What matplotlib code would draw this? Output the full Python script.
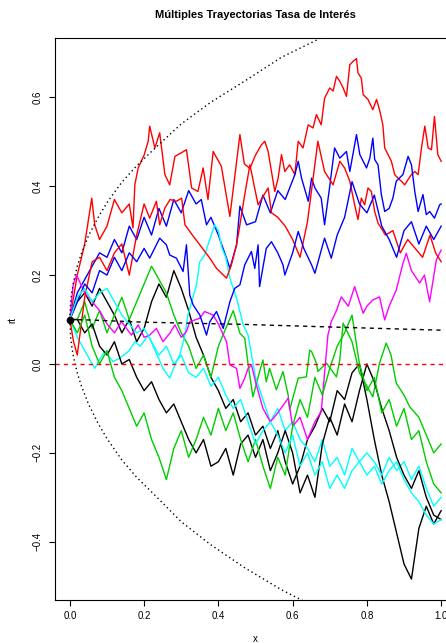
import numpy as np
import matplotlib
matplotlib.use("Agg")
import matplotlib.pyplot as plt

plt.rcParams['font.family'] = ['Liberation Sans', 'DejaVu Sans']

# Regular time grid used by the trajectories that are sampled every 0.02
t = np.linspace(0.0, 1.0, 51)

red_a_x = [0, 0.02, 0.04, 0.059, 0.067, 0.08, 0.10, 0.12, 0.14, 0.16, 0.17, 0.175, 0.184, 0.20, 0.211, 0.215,
           0.229, 0.242, 0.256, 0.269, 0.283, 0.30, 0.314, 0.328, 0.345, 0.359, 0.372, 0.386, 0.408, 0.431,
           0.458, 0.47, 0.485, 0.50, 0.516, 0.525, 0.534, 0.543, 0.552, 0.561, 0.570, 0.579, 0.592, 0.606,
           0.615, 0.628, 0.642, 0.655, 0.664, 0.677, 0.686, 0.700, 0.709, 0.718, 0.727, 0.736, 0.745, 0.754,
           0.763, 0.772, 0.776, 0.785, 0.790, 0.803, 0.816, 0.826, 0.834, 0.843, 0.848, 0.857, 0.866, 0.875,
           0.884, 0.893, 0.902, 0.911, 0.920, 0.929, 0.938, 0.947, 0.956, 0.965, 0.974, 0.982, 0.991, 1.0]
red_a_y = [0.10, 0.20, 0.27, 0.373, 0.313, 0.28, 0.31, 0.37, 0.34, 0.36, 0.306, 0.403, 0.441, 0.47, 0.501,
           0.535, 0.486, 0.520, 0.426, 0.403, 0.467, 0.475, 0.482, 0.396, 0.388, 0.441, 0.370, 0.478, 0.445,
           0.332, 0.516, 0.45, 0.44, 0.47, 0.493, 0.501, 0.478, 0.433, 0.388, 0.418, 0.471, 0.433, 0.448, 0.426,
           0.501, 0.486, 0.538, 0.531, 0.561, 0.538, 0.598, 0.621, 0.614, 0.647, 0.636, 0.621, 0.602, 0.673,
           0.681, 0.687, 0.655, 0.643, 0.606, 0.595, 0.572, 0.595, 0.572, 0.538, 0.486, 0.471, 0.456, 0.426,
           0.418, 0.411, 0.403, 0.415, 0.426, 0.433, 0.426, 0.486, 0.535, 0.486, 0.482, 0.557, 0.471, 0.456]

red_b_x = [0, 0.01, 0.02, 0.04, 0.06, 0.08, 0.10, 0.12, 0.14, 0.16, 0.18, 0.20, 0.215, 0.233, 0.242, 0.256,
           0.27, 0.287, 0.301, 0.310, 0.33, 0.350, 0.377, 0.395, 0.422, 0.435, 0.449, 0.458, 0.471, 0.485,
           0.507, 0.534, 0.543, 0.56, 0.58, 0.60, 0.62, 0.64, 0.668, 0.686, 0.709, 0.727, 0.740, 0.754, 0.767,
           0.776, 0.785, 0.794, 0.803, 0.812, 0.821, 0.830, 0.85, 0.87, 0.89, 0.91, 0.93, 0.95, 0.97, 0.985, 1.0]
red_b_y = [0.10, 0.05, 0.02, 0.15, 0.23, 0.24, 0.21, 0.25, 0.27, 0.20, 0.29, 0.36, 0.328, 0.366, 0.313, 0.351,
           0.37, 0.366, 0.373, 0.313, 0.29, 0.268, 0.238, 0.215, 0.193, 0.223, 0.268, 0.313, 0.381, 0.448,
           0.358, 0.396, 0.340, 0.33, 0.31, 0.28, 0.24, 0.32, 0.501, 0.433, 0.403, 0.456, 0.441, 0.411, 0.358,
           0.325, 0.373, 0.358, 0.396, 0.388, 0.343, 0.317, 0.29, 0.30, 0.25, 0.28, 0.26, 0.24, 0.29, 0.25, 0.23]

blue_a_x = [0, 0.02, 0.04, 0.06, 0.08, 0.10, 0.12, 0.14, 0.16, 0.18, 0.20, 0.22, 0.24, 0.26, 0.28, 0.30, 0.32,
            0.34, 0.354, 0.368, 0.38, 0.40, 0.422, 0.431, 0.449, 0.458, 0.476, 0.50, 0.52, 0.54, 0.56, 0.58,
            0.606, 0.615, 0.624, 0.642, 0.651, 0.660, 0.677, 0.686, 0.70, 0.713, 0.727, 0.745, 0.754, 0.772,
            0.781, 0.799, 0.808, 0.816, 0.821, 0.830, 0.839, 0.848, 0.86, 0.870, 0.879, 0.897, 0.911, 0.920,
            0.929, 0.938, 0.951, 0.960, 0.969, 0.982, 0.996, 1.0]
blue_a_y = [0.10, 0.16, 0.19, 0.22, 0.25, 0.24, 0.28, 0.25, 0.31, 0.28, 0.33, 0.29, 0.35, 0.31, 0.37, 0.34, 0.39,
            0.36, 0.370, 0.313, 0.33, 0.29, 0.238, 0.215, 0.268, 0.355, 0.313, 0.32, 0.38, 0.34, 0.39, 0.37,
            0.426, 0.456, 0.418, 0.366, 0.418, 0.396, 0.373, 0.313, 0.40, 0.486, 0.463, 0.478, 0.433, 0.516,
            0.471, 0.441, 0.463, 0.508, 0.460, 0.448, 0.381, 0.343, 0.35, 0.373, 0.411, 0.426, 0.467, 0.448,
            0.388, 0.343, 0.381, 0.336, 0.343, 0.328, 0.358, 0.36]

blue_b_x = [0, 0.02, 0.04, 0.06, 0.08, 0.10, 0.12, 0.14, 0.16, 0.18, 0.20, 0.215, 0.242, 0.260, 0.269, 0.287,
            0.305, 0.314, 0.323, 0.332, 0.350, 0.359, 0.368, 0.377, 0.395, 0.413, 0.431, 0.444, 0.458, 0.471,
            0.489, 0.498, 0.507, 0.511, 0.529, 0.543, 0.56, 0.574, 0.579, 0.60, 0.615, 0.63, 0.651, 0.660,
            0.686, 0.704, 0.72, 0.74, 0.76, 0.78, 0.80, 0.82, 0.84, 0.86, 0.88, 0.90, 0.92, 0.94, 0.96, 0.98, 1.0]
blue_b_y = [0.10, 0.14, 0.18, 0.16, 0.21, 0.20, 0.24, 0.21, 0.25, 0.23, 0.26, 0.238, 0.283, 0.268, 0.245, 0.238,
            0.208, 0.268, 0.155, 0.133, 0.110, 0.088, 0.065, 0.095, 0.118, 0.080, 0.140, 0.170, 0.178, 0.223,
            0.253, 0.215, 0.268, 0.174, 0.260, 0.275, 0.25, 0.223, 0.200, 0.25, 0.298, 0.26, 0.223, 0.204,
            0.283, 0.238, 0.29, 0.33, 0.41, 0.36, 0.34, 0.38, 0.31, 0.28, 0.24, 0.30, 0.32, 0.27, 0.31, 0.28, 0.31]

cyan_a_x = [0, 0.02, 0.04, 0.067, 0.08, 0.094, 0.117, 0.139, 0.16, 0.175, 0.19, 0.211, 0.233, 0.251, 0.269,
            0.283, 0.296, 0.310, 0.318, 0.328, 0.341, 0.350, 0.363, 0.372, 0.381, 0.390, 0.40, 0.41, 0.42, 0.431,
            0.449, 0.467, 0.480, 0.50, 0.52, 0.54, 0.56, 0.58, 0.60, 0.62, 0.64, 0.66, 0.68, 0.70, 0.72, 0.74,
            0.76, 0.78, 0.80, 0.82, 0.84, 0.86, 0.88, 0.90, 0.92, 0.94, 0.96, 0.98, 1.0]
cyan_a_y = [0.10, 0.06, 0.03, -0.010, 0.01, 0.028, 0.005, 0.016, 0.03, 0.050, 0.04, 0.065, 0.024, -0.010,
            -0.032, -0.002, 0.020, 0.065, 0.110, 0.140, 0.178, 0.230, 0.245, 0.268, 0.290, 0.313, 0.30, 0.26,
            0.24, 0.193, 0.148, 0.088, 0.065, -0.03, -0.08, -0.13, -0.10, -0.15, -0.13, -0.17, -0.19, -0.22,
            -0.17, -0.23, -0.21, -0.25, -0.19, -0.22, -0.20, -0.22, -0.25, -0.21, -0.24, -0.22, -0.26, -0.23,
            -0.28, -0.32, -0.30]

cyan_b = [0.10, 0.15, 0.17, 0.14, 0.16, 0.17, 0.14, 0.11, 0.09, 0.07, 0.08, 0.05, 0.02, 0.04, 0.00, 0.02, -0.02,
          -0.03, -0.01, -0.05, -0.03, -0.07, -0.10, -0.08, -0.13, -0.18, -0.15, -0.13, -0.16, -0.20, -0.16,
          -0.23, -0.20, -0.25, -0.22, -0.28, -0.25, -0.28, -0.24, -0.22, -0.25, -0.23, -0.27, -0.24, -0.22,
          -0.26, -0.29, -0.31, -0.34, -0.36, -0.35]

magenta_x = [0, 0.009, 0.018, 0.04, 0.06, 0.08, 0.10, 0.12, 0.139, 0.166, 0.184, 0.20, 0.215, 0.233, 0.251,
             0.27, 0.283, 0.30, 0.314, 0.323, 0.35, 0.363, 0.386, 0.40, 0.422, 0.431, 0.449, 0.458, 0.471, 0.480,
             0.489, 0.50, 0.52, 0.54, 0.56, 0.588, 0.60, 0.62, 0.64, 0.66, 0.677, 0.695, 0.704, 0.718, 0.731,
             0.75, 0.767, 0.790, 0.80, 0.816, 0.834, 0.848, 0.86, 0.879, 0.897, 0.906, 0.92, 0.942, 0.955, 0.969,
             0.987, 1.0]
magenta_y = [0.10, 0.178, 0.200, 0.16, 0.14, 0.12, 0.09, 0.07, 0.095, 0.065, 0.088, 0.06, 0.065, 0.080, 0.050,
             0.07, 0.088, 0.06, 0.073, 0.095, 0.103, 0.118, 0.110, 0.09, 0.050, -0.002, -0.010, -0.055, -0.032,
             -0.010, -0.002, -0.04, -0.10, -0.13, -0.11, -0.077, -0.14, -0.12, -0.17, -0.13, -0.107, 0.065,
             0.095, 0.12, 0.151, 0.13, 0.174, 0.114, 0.13, 0.144, 0.151, 0.099, 0.13, 0.166, 0.226, 0.249, 0.21,
             0.182, 0.2, 0.140, 0.234, 0.256]

green_a_x = [0, 0.02, 0.04, 0.06, 0.08, 0.10, 0.12, 0.14, 0.16, 0.18, 0.20, 0.22, 0.24, 0.26, 0.28, 0.30, 0.32,
             0.34, 0.36, 0.38, 0.40, 0.42, 0.44, 0.458, 0.471, 0.48, 0.493, 0.511, 0.52, 0.529, 0.538, 0.552,
             0.556, 0.574, 0.588, 0.592, 0.615, 0.637, 0.646, 0.651, 0.664, 0.668, 0.691, 0.718, 0.727, 0.736,
             0.76, 0.78, 0.80, 0.816, 0.834, 0.852, 0.865, 0.879, 0.90, 0.915, 0.94, 0.969, 0.98, 1.0]
green_a_y = [0.10, 0.10, 0.14, 0.08, 0.12, 0.07, 0.11, 0.15, 0.10, 0.14, 0.18, 0.22, 0.19, 0.16, 0.11, 0.07,
             0.04, -0.01, 0.02, -0.03, 0.04, 0.08, 0.12, 0.069, 0.058, 0.0, -0.074, -0.017, 0.009, -0.04, -0.01,
             -0.047, -0.058, -0.017, -0.07, -0.103, -0.032, -0.029, 0.031, 0.028, 0.002, -0.017, 0.002, -0.029,
             0.009, 0.092, 0.05, -0.02, -0.05, -0.074, 0.002, 0.047, 0.02, -0.043, -0.07, -0.096, -0.12, -0.178,
             -0.2, -0.18]

green_b = [0.10, 0.07, 0.11, 0.04, 0.00, 0.03, -0.03, -0.06, -0.10, -0.14, -0.11, -0.17, -0.21, -0.26, -0.19,
           -0.15, -0.21, -0.17, -0.12, -0.16, -0.10, -0.15, -0.11, -0.17, -0.22, -0.17, -0.23, -0.28, -0.21,
           -0.25, -0.14, -0.08, -0.12, -0.03, -0.07, -0.01, 0.04, 0.07, 0.11, 0.00, -0.06, -0.03, -0.11, -0.08,
           -0.14, -0.10, -0.17, -0.15, -0.22, -0.27, -0.29]
black_a = [0.10, 0.14, 0.16, 0.13, 0.17, 0.14, 0.11, 0.07, 0.10, 0.05, 0.08, 0.14, 0.18, 0.15, 0.21, 0.17, 0.12,
           0.06, 0.02, -0.03, -0.06, -0.10, -0.08, -0.13, -0.11, -0.16, -0.14, -0.19, -0.15, -0.22, -0.27,
           -0.23, -0.17, -0.14, -0.10, -0.13, -0.06, -0.08, -0.02, 0.00, -0.08, -0.17, -0.25, -0.31, -0.38,
           -0.45, -0.484, -0.37, -0.32, -0.36, -0.33]
black_b = [0.10, 0.10, 0.07, 0.09, 0.04, 0.02, 0.05, 0.00, 0.01, -0.03, -0.06, -0.04, -0.08, -0.11, -0.09, -0.13,
           -0.17, -0.20, -0.17, -0.23, -0.22, -0.19, -0.25, -0.18, -0.16, -0.21, -0.17, -0.24, -0.20, -0.15,
           -0.20, -0.29, -0.25, -0.30, -0.18, -0.12, -0.16, -0.09, -0.13, -0.06, 0.00, -0.04, -0.10, -0.15,
           -0.21, -0.25, -0.28, -0.24, -0.30, -0.34, -0.35]

paths = [(t, black_a, "black"), (red_a_x, red_a_y, "#FF0000"), (green_a_x, green_a_y, "#00CD00"),
         (blue_a_x, blue_a_y, "#0000FF"), (cyan_a_x, cyan_a_y, "#00FFFF"), (magenta_x, magenta_y, "#FF00FF"),
         (t, black_b, "black"), (red_b_x, red_b_y, "#FF0000"), (t, green_b, "#00CD00"),
         (blue_b_x, blue_b_y, "#0000FF"), (t, cyan_b, "#00FFFF")]

# Expected path and its +/- band
mean_x = [0.0, 0.05, 0.2, 0.47, 0.75, 1.0]
mean_y = [0.100, 0.099, 0.094, 0.089, 0.082, 0.076]
band_x = [0.0, 0.002, 0.005, 0.01, 0.02, 0.03, 0.05, 0.075, 0.1, 0.14, 0.18, 0.23, 0.3, 0.38, 0.47, 0.57,
          0.68, 0.8, 0.95]
band_up = [0.100, 0.138, 0.160, 0.185, 0.220, 0.246, 0.288, 0.328, 0.363, 0.409, 0.446, 0.486, 0.540, 0.589,
           0.636, 0.690, 0.735, 0.780, 0.820]
band_lo = [0.100, 0.062, 0.040, 0.015, -0.020, -0.047, -0.090, -0.132, -0.168, -0.216, -0.255, -0.296,
           -0.355, -0.407, -0.458, -0.508, -0.555, -0.600, -0.640]

x_ticks = [0.0, 0.2, 0.4, 0.6, 0.8, 1.0]
y_ticks = [-0.4, -0.2, 0.0, 0.2, 0.4, 0.6]

W, H = 446, 643
fig = plt.figure(figsize=(W / 100, H / 100), dpi=100)
left, right, top, bottom = 55, 456, 37.7, 600
ax = fig.add_axes([left / W, 1 - bottom / H, (right - left) / W, (bottom - top) / H])

lw = 1.0
for xs, ys, col in paths:
    ax.plot(xs, ys, color=col, lw=lw)

ax.plot(band_x, band_up, color="black", lw=lw, linestyle=(0, (1.0, 2.2)))
ax.plot(band_x, band_lo, color="black", lw=lw, linestyle=(0, (1.0, 2.2)))
ax.plot(mean_x, mean_y, color="black", lw=lw, linestyle=(0, (3, 3)))
ax.axhline(0.0, color="#FF0000", lw=lw, linestyle=(0, (3, 3)))
ax.plot([0.0], [0.1], "o", color="black", ms=4.5)

ax.set_xlim(-0.04, 1.04)
ax.set_ylim(-0.531, 0.734)
ax.set_xticks(x_ticks)
ax.set_xticklabels([f"{v:.1f}" for v in x_ticks])
ax.set_yticks(y_ticks)
ax.set_yticklabels([f"{v:.1f}".replace("-", "\u2212") for v in y_ticks], rotation=90, va="center")
ax.tick_params(direction="out", length=4, width=0.8, labelsize=7, pad=4)
ax.tick_params(axis="y", pad=5)
for s in ax.spines.values():
    s.set_linewidth(0.8)

fig.text(255.5 / W, 1 - 15 / H, "Múltiples Trayectorias Tasa de Interés", ha="center", va="center",
         fontsize=8, fontweight="bold")
fig.text(255.5 / W, 1 - 639 / H, "x", ha="center", va="center", fontsize=7)
fig.text(12 / W, 1 - 320 / H, "rt", ha="center", va="center", fontsize=7, rotation=90)

fig.savefig("out.png", dpi=100)
